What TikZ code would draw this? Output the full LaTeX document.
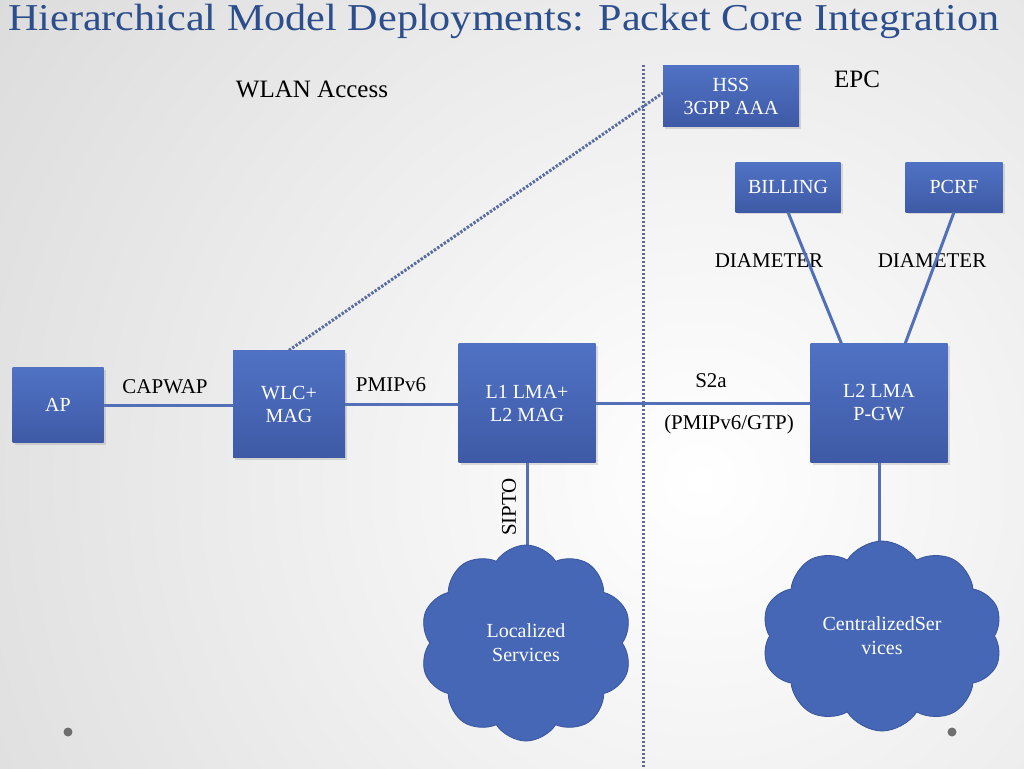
\documentclass[tikz,border=0pt]{standalone}
\usepackage{fontspec}
\setmainfont{Liberation Serif}
\usetikzlibrary{shapes.symbols,shadows,calc,backgrounds}

\definecolor{boxtop}{RGB}{80,114,196}
\definecolor{boxbot}{RGB}{62,90,166}
\definecolor{lineblue}{RGB}{82,112,184}
\definecolor{titleblue}{RGB}{44,78,140}
\definecolor{dotblue}{RGB}{88,108,162}
\definecolor{cloudfill}{RGB}{70,102,182}
\definecolor{cloudedge}{RGB}{56,84,156}
\definecolor{bggray}{RGB}{214,214,214}
\definecolor{bulletgray}{RGB}{110,110,110}

\tikzset{
  box/.style={rectangle, top color=boxtop, bottom color=boxbot, draw=none,
    text=white, font=\fontsize{20}{23}\selectfont, align=center, inner sep=0pt,
    drop shadow={shadow xshift=2pt, shadow yshift=-2pt, opacity=0.25}},
  conn/.style={draw=lineblue, line width=3pt},
  dotline/.style={draw=dotblue, line width=3pt, dash pattern=on 2.4pt off 1.6pt},
  lbl/.style={text=black, font=\fontsize{21}{24}\selectfont, inner sep=0pt},
  head/.style={text=black, font=\fontsize{25}{28}\selectfont, inner sep=0pt},
  cloudnode/.style={cloud, cloud puffs=10, cloud puff arc=115, fill=cloudfill,
    draw=cloudedge, line width=0.8pt, text=white,
    font=\fontsize{20}{24}\selectfont, align=center, inner sep=0pt},
}

\begin{document}
\begin{tikzpicture}[x=1pt,y=-1pt]
\useasboundingbox (0,0) rectangle (1024,768);

% title
\node[anchor=base west, text=titleblue, font=\fontsize{38}{42}\selectfont, inner sep=0pt]
  (title) at (8,31) {\scalebox{1.11}[1]{Hierarchical Model Deployments: Packet Core Integration}};

% headings
\node[head] (wlan) at (312,89) {WLAN Access};
\node[head] (epc) at (857,79) {EPC};

% boxes
\node[box, minimum width=91pt, minimum height=75pt] (ap) at (58,405) {AP};
\node[box, minimum width=112pt, minimum height=107pt] (wlc) at (289,404) {WLC+\\MAG};
\node[box, minimum width=137pt, minimum height=119pt] (l1) at (527,403) {L1 LMA+\\L2 MAG};
\node[box, minimum width=137pt, minimum height=119pt] (l2) at (879,403) {L2 LMA\\P-GW};
\node[box, minimum width=136pt, minimum height=61pt] (hss) at (731,96) {HSS\\3GPP AAA};
\node[box, minimum width=105pt, minimum height=50pt] (bill) at (788,187) {BILLING};
\node[box, minimum width=97pt, minimum height=50pt] (pcrf) at (954,187) {PCRF};

% clouds
\node[cloudnode, minimum width=212pt, minimum height=196pt] (loc) at (526,643)
  {Localized\\Services};
\node[cloudnode, minimum width=241pt, minimum height=190pt] (cen) at (882,636)
  {CentralizedSer\\vices};

% connector end points
\coordinate (l2b) at ($(l2.north west)+(31,0)$);
\coordinate (l2p) at ($(l2.north west)+(95,0)$);
\coordinate (hssin) at ($(hss.west)+(0,-3)$);
\coordinate (divtop) at (643,65);
\coordinate (divbot) at (643,768);

\begin{scope}[on background layer]
  % background
  \begin{scope}
    \clip (0,0) rectangle (1024,768);
    \fill[bggray] (0,0) rectangle (1024,768);
    \shade[inner color=white, outer color=bggray] (700,480) circle (1000);
  \end{scope}
  \draw[conn] (ap.east) -- (ap.east -| wlc.west);
  \draw[conn] (wlc.east) -- (wlc.east -| l1.west);
  \draw[conn] (l1.east) -- (l1.east -| l2.west);
  \draw[conn] (l1.south) -- (l1.south |- loc.center);
  \draw[conn] (l2.south) -- (l2.south |- cen.center);
\end{scope}

% labels
\node[lbl] (capwap) at (165,387) {CAPWAP};
\node[lbl] (pmip) at (391,385) {PMIPv6};
\node[lbl] (s2a) at (711,381) {S2a};
\node[lbl] (pmipgtp) at (729,424) {(PMIPv6/GTP)};
\node[lbl] (dia1) at (769,261) {DIAMETER};
\node[lbl] (dia2) at (932,261) {DIAMETER};
\node[lbl, rotate=90] (sipto) at (509,507) {SIPTO};

% diameter links drawn over their labels, as in the reference
\draw[conn] (bill.south) -- (l2b);
\draw[conn] (pcrf.south) -- (l2p);

% dotted lines
\draw[dotline] (divtop) -- (divbot);
\draw[dotline] (wlc.north) -- (hssin);

% bullets
\fill[bulletgray] (68,732) circle (4.5);
\fill[bulletgray] (952,732) circle (4.5);
\end{tikzpicture}
\end{document}
